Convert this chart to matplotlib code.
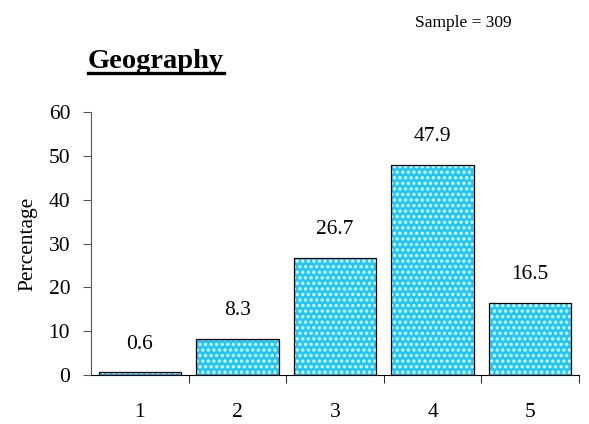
import matplotlib
matplotlib.use('Agg')
import matplotlib.pyplot as plt
from matplotlib.lines import Line2D

plt.rcParams['font.family'] = ['Liberation Serif', 'DejaVu Serif']
plt.rcParams['hatch.linewidth'] = 1.6

categories = ['1', '2', '3', '4', '5']
values = [0.6, 8.3, 26.7, 47.9, 16.5]
yticks = [0, 10, 20, 30, 40, 50, 60]

fig = plt.figure(figsize=(5.89, 4.24), dpi=100)
ax = fig.add_axes([0.1545, 0.1156, 0.8285, 0.6202])

x = list(range(len(categories)))
# fill with white dot pattern, then black outline on top
ax.bar(x, values, width=0.845, color='#1EC8F5', edgecolor='#E6F8FF', hatch='...', linewidth=0)
ax.bar(x, values, width=0.845, fill=False, edgecolor='black', linewidth=0.9)

for xi, v in zip(x, values):
    ax.text(xi, v + 4.3, f'{v:.1f}', ha='center', va='bottom', fontsize=15.5)

ax.set_xlim(-0.5, len(categories) - 0.5)
ax.set_ylim(0, 60)
ax.set_yticks(yticks)
ax.set_xticks(x)
ax.set_xticklabels(categories, fontsize=15.5)
ax.tick_params(axis='x', length=0, pad=20)
ax.set_xticks([i - 0.5 for i in range(1, len(categories) + 1)], minor=True)
ax.tick_params(axis='x', which='minor', length=6, color='black')
ax.tick_params(axis='y', labelsize=15.5, length=6, color='#555555', pad=9)

ax.spines['top'].set_visible(False)
ax.spines['right'].set_visible(False)
ax.spines['left'].set_color('#555555')
ax.set_ylabel('Percentage', fontsize=15.5, labelpad=8)

fig.text(463 / 589, 1 - 23 / 424, 'Sample = 309', ha='center', va='center', fontsize=12.5)

title = fig.text(88 / 589, 1 - 68 / 424, 'Geography', ha='left', va='baseline',
                 fontsize=20.5, fontweight='bold')
fig.canvas.draw()
bb = title.get_window_extent().transformed(fig.transFigure.inverted())
uy = 1 - 73 / 424
fig.add_artist(Line2D([bb.x0, bb.x1], [uy, uy], color='black', linewidth=2.4,
                      transform=fig.transFigure))

fig.savefig('out.png', dpi=100)
